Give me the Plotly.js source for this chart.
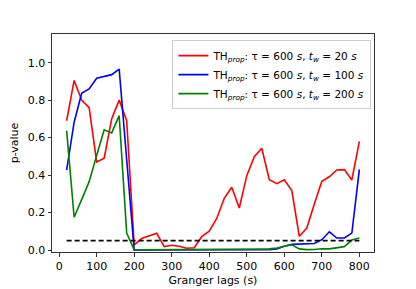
<!DOCTYPE html>
<html>
<head>
<meta charset="utf-8">
<script src="https://cdn.plot.ly/plotly-3.0.1.min.js"></script>
<style>html,body{margin:0;padding:0;background:#fff;}#chart{width:416px;height:289px;}</style>
</head>
<body>
<div id="chart"></div>
<script>
const lags = [20,40,60,80,100,120,140,160,180,200,220,240,260,280,300,320,340,360,380,400,420,440,460,480,500,520,540,560,580,600,620,640,660,680,700,720,740,760,780,800];
const pTw20 = [0.69,0.905,0.80,0.76,0.47,0.49,0.70,0.80,0.69,0.027,0.062,0.075,0.089,0.018,0.025,0.02,0.009,0.012,0.071,0.10,0.168,0.276,0.335,0.224,0.397,0.498,0.543,0.375,0.354,0.375,0.317,0.073,0.117,0.246,0.367,0.391,0.427,0.429,0.374,0.58];
const pTw100 = [0.427,0.682,0.837,0.86,0.917,0.927,0.936,0.966,0.49,0.0,0.0,0.0,0.0,0.0,0.0,0.0,0.0,0.0,0.0,0.0,0.0,0.0,0.0,0.0,0.0,0.0,0.0,0.001,0.005,0.02,0.03,0.032,0.035,0.035,0.055,0.097,0.064,0.064,0.09,0.43];
const pTw200 = [0.637,0.175,0.269,0.365,0.504,0.642,0.625,0.717,0.09,0.0,0.001,0.001,0.001,0.001,0.001,0.001,0.001,0.002,0.002,0.002,0.002,0.002,0.002,0.003,0.004,0.004,0.005,0.006,0.01,0.02,0.028,0.006,0.002,0.003,0.007,0.006,0.01,0.018,0.053,0.064];
const thresholdX = [20,800];
const thresholdY = [0.05,0.05];
const seriesNames = [
  "TH<sub><i>prop</i></sub>: τ = 600 <i>s</i>, <i>t</i><sub><i>w</i></sub> = 20 <i>s</i>",
  "TH<sub><i>prop</i></sub>: τ = 600 <i>s</i>, <i>t</i><sub><i>w</i></sub> = 100 <i>s</i>",
  "TH<sub><i>prop</i></sub>: τ = 600 <i>s</i>, <i>t</i><sub><i>w</i></sub> = 200 <i>s</i>"
];
const xTicks = [0,100,200,300,400,500,600,700,800];
const yTicks = [0,0.2,0.4,0.6,0.8,1.0];
const yTickText = ["0.0","0.2","0.4","0.6","0.8","1.0"];

const font = {family: "DejaVu Sans", size: 11, color: "#000"};
const traces = [
  {x: lags, y: pTw20, name: seriesNames[0], mode: "lines", line: {color: "#ff0000", width: 1.6}},
  {x: lags, y: pTw100, name: seriesNames[1], mode: "lines", line: {color: "#0000ff", width: 1.6}},
  {x: lags, y: pTw200, name: seriesNames[2], mode: "lines", line: {color: "#008000", width: 1.6}},
  {x: thresholdX, y: thresholdY, mode: "lines", showlegend: false, line: {color: "#000", width: 1.6, dash: "5px,3px"}}
];
const axisCommon = {showline: true, mirror: true, linecolor: "#333", linewidth: 1, ticks: "outside", ticklen: 3.5, tickwidth: 1, tickcolor: "#333", showgrid: false, zeroline: false, tickfont: font};
const layout = {
  width: 416, height: 289,
  margin: {l: 52, r: 42, t: 34, b: 37},
  paper_bgcolor: "#fff", plot_bgcolor: "#fff",
  font: font,
  showlegend: true,
  legend: {x: 0.374, y: 0.972, xanchor: "left", yanchor: "top", bordercolor: "#ccc", borderwidth: 1, bgcolor: "rgba(255,255,255,0.8)", font: {family: "DejaVu Sans", size: 10.5, color: "#000"}, itemwidth: 30, tracegroupgap: 0},
  xaxis: Object.assign({}, axisCommon, {range: [-19, 839], tickvals: xTicks, title: {text: "Granger lags (s)", font: font, standoff: 4}}),
  yaxis: Object.assign({}, axisCommon, {range: [-0.0107, 1.153], tickvals: yTicks, ticktext: yTickText, title: {text: "p-value", font: font, standoff: 6}})
};
Plotly.newPlot("chart", traces, layout, {staticPlot: true, displayModeBar: false});
</script>
</body>
</html>
